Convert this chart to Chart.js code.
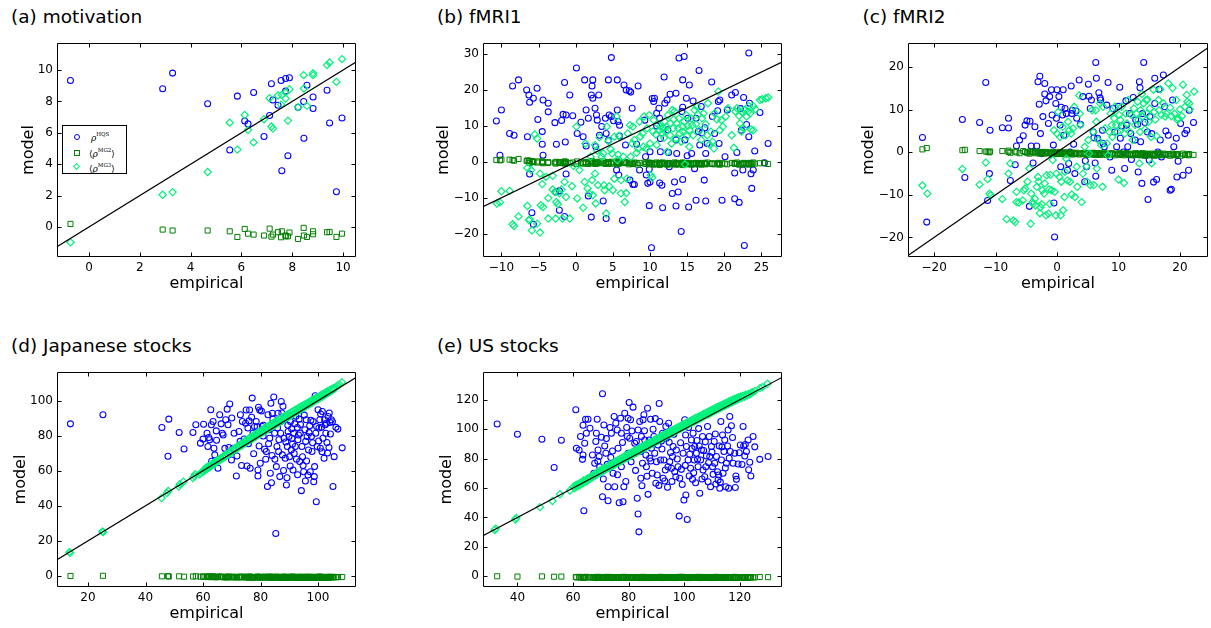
<!DOCTYPE html>
<html><head><meta charset="utf-8">
<script src="https://cdn.jsdelivr.net/npm/chart.js@4.4.0/dist/chart.umd.min.js"></script>
<style>
html,body{margin:0;padding:0;background:#fff;overflow:hidden;}
body{width:1211px;height:628px;position:relative;font-family:"DejaVu Sans",sans-serif;}
canvas{position:absolute;}
.ttl{position:absolute;font-size:18.5px;line-height:1;white-space:nowrap;color:#000;}
.leg{position:absolute;border:1px solid #000;background:#fff;box-sizing:border-box;}
.mk{position:absolute;box-sizing:border-box;}
.lt{position:absolute;font-family:"DejaVu Serif",serif;font-size:9px;line-height:1;white-space:nowrap;color:#000;}
.lt sup{font-size:5.5px;font-style:normal;vertical-align:5px;}
</style></head><body>
<div class="ttl" style="left:11px;top:7.8px">(a) motivation</div>
<div class="ttl" style="left:437px;top:7.8px">(b) fMRI1</div>
<div class="ttl" style="left:862.5px;top:7.8px">(c) fMRI2</div>
<div class="ttl" style="left:11px;top:336.8px">(d) Japanese stocks</div>
<div class="ttl" style="left:437px;top:336.8px">(e) US stocks</div>
<script>
// ---------------- (a) motivation ----------------
const empA = [-0.73, 2.90, 3.29, 4.67, 5.54, 5.84, 6.13, 6.26, 6.48, 6.89, 7.11, 7.18, 7.24, 7.44, 7.56, 7.59, 7.74, 7.74, 7.83, 7.89, 8.23, 8.45, 8.46, 8.58, 8.82, 8.82, 9.37, 9.47, 9.74, 9.96];
const hqsA = [9.34, 8.81, 9.81, 7.85, 4.90, 8.34, 6.76, 6.57, 8.57, 5.76, 7.10, 9.13, 8.10, 7.76, 9.34, 3.58, 9.47, 8.66, 4.54, 9.51, 7.63, 8.00, 5.65, 9.04, 8.29, 7.55, 8.72, 6.63, 2.24, 6.95];
const mg2A = [0.19, -0.17, -0.23, -0.23, -0.28, -0.64, -0.13, -0.43, -0.49, -0.55, -0.11, -0.62, -0.49, -0.34, -0.66, -0.28, -0.60, -0.55, -0.60, -0.36, -0.77, -0.06, -0.55, -0.64, -0.28, -0.47, -0.34, -0.32, -0.64, -0.43];
const mg3A = [-0.98, 2.05, 2.22, 3.50, 6.65, 4.93, 7.14, 6.18, 5.39, 6.87, 8.21, 6.40, 6.27, 8.38, 7.80, 8.42, 8.19, 8.58, 6.78, 8.78, 7.63, 9.68, 8.83, 7.72, 9.81, 9.68, 10.32, 10.49, 9.25, 10.70];
const xRangeA = [-1.26, 10.51], yRangeA = [-1.92, 11.73];
const xTicksA = [0, 2, 4, 6, 8, 10], yTicksA = [0, 2, 4, 6, 8, 10];

// ---------------- (b) fMRI1 ----------------
const empB = [-10.68, -10.0, -10.2, -8.9, -8.3, -8.5, -7.7, -6.6, -6.3, -6.2, -5.7, -5.2, -5.1, -6.5, -6.2, -5.9, -5.7, -4.5, -4.4, -3.7, -3.7, -4.5, -4.4, -2.8, -2.6, -2.7, -2.2, -1.9, -1.7, -1.5, -1.3, -1.4, -2.2, -1.5, -1.3, -0.8, -0.4, 0.1, 0.2, 0.7, 1.0, 1.2, 1.4, 1.7, 1.4, 1.7, 2.1, 2.2, 2.3, 2.3, 2.6, 2.8, 2.9, 3.1, 2.1, 2.7, 3.2, 3.5, 3.7, 4.0, 4.1, 4.4, 4.4, 4.5, 4.8, 4.8, 5.1, 5.6, 5.6, 5.7, 5.9, 5.9, 4.1, 6.3, 5.5, 5.8, 6.5, 6.8, 7.2, 7.4, 6.7, 7.6, 7.3, 7.7, 7.9, 8.2, 8.4, 8.6, 9.3, 9.4, 9.5, 9.9, 10.0, 9.7, 9.9, 10.0, 10.2, 10.3, 10.6, 10.5, 10.9, 10.9, 11.2, 11.3, 11.4, 11.4, 11.3, 11.6, 11.7, 11.9, 12.0, 12.3, 12.4, 12.5, 12.6, 12.7, 13.0, 13.3, 13.5, 13.5, 13.5, 13.6, 13.8, 13.9, 14.2, 14.3, 14.4, 14.6, 14.4, 14.4, 14.7, 14.9, 15.0, 15.1, 15.2, 15.3, 15.6, 15.8, 16.0, 16.2, 16.2, 16.6, 16.5, 16.7, 16.9, 17.0, 17.3, 17.4, 17.5, 17.5, 17.7, 18.3, 18.4, 18.7, 19.1, 19.2, 19.3, 19.4, 19.7, 20.1, 20.4, 21.0, 21.5, 21.4, 21.4, 22.0, 21.7, 22.2, 22.3, 22.6, 22.5, 22.7, 23.0, 23.3, 23.4, 23.3, 23.6, 23.7, 23.9, 24.1, 24.8, 25.4, 25.9];
const hqsB = [11.36, 14.4, 1.8, 7.9, 7.4, 21.1, 22.8, 20.0, 18.6, 16.6, 17.7, 20.5, 11.8, 7.0, -3.4, -14.2, -17.4, 4.9, 17.2, 16.3, 13.9, 8.4, 1.8, 10.9, 4.9, -8.4, -8.1, 11.5, 13.2, 22.1, 13.0, 5.5, -13.5, -15.2, -3.4, 18.6, 12.8, 26.1, 7.9, 11.0, 7.0, 22.8, 14.4, 12.1, 4.4, -9.5, 18.6, 21.1, 22.8, 17.7, 14.9, 13.0, 11.6, 18.6, -15.4, 4.2, 7.4, 9.8, -10.9, 12.1, 7.9, 22.8, 6.0, 13.0, 29.0, 12.6, 11.4, 22.8, 14.4, 11.2, 10.2, 7.2, -15.8, -16.3, -2.3, -3.7, 21.4, 20.0, 19.8, 19.4, 4.7, 14.9, -5.1, -6.3, -6.3, 4.9, 21.1, -2.3, 11.6, 1.4, -3.7, -2.1, 2.8, -6.0, -12.2, -5.6, -23.9, 17.6, 17.7, 16.8, 13.5, 10.0, 14.9, 12.1, 6.5, 2.8, -5.9, -6.5, -12.8, 23.6, 16.3, 17.2, 8.9, 2.6, -1.4, 18.8, -8.8, -5.6, 19.1, 6.1, -12.3, 2.3, -8.4, 28.9, -19.4, 14.0, 22.8, 29.3, 15.2, -4.9, 6.1, 17.7, 1.7, 12.1, -12.6, 21.4, 2.3, 16.9, -1.9, 12.1, -10.7, 25.4, 8.4, 4.7, 15.4, 8.0, -5.1, 9.5, -10.9, 2.3, 5.1, 22.2, 12.6, 7.9, 14.2, 16.8, 5.1, 17.2, -10.7, 1.4, 14.4, 18.6, 19.3, -3.1, -10.3, -11.3, 2.6, 14.8, 8.8, 17.9, -2.3, -23.3, 10.4, 7.0, 16.3, 30.3, -3.3, -7.4, -2.3, 3.0, 13.7, -0.3, 5.1];
const mg2B = [0.5, 0.6, 0.4, 0.6, 0.3, 0.5, 0.8, 0.2, 0.1, 0.3, 0.0, -0.2, 0.1, 0.4, -0.3, 0.2, -0.1, -0.2, 0.0, -0.3, -0.1, 0.1, -0.4, -0.2, 0.0, -0.5, -0.3, -0.1, -0.4, 0.1, -0.2, -0.5, -0.1, -0.3, 0.0, -0.4, -0.2, -0.6, 0.1, -0.3, -0.5, -0.1, -0.4, 0.0, -0.2, -0.6, -0.3, 0.2, -0.4, -0.1, -0.5, -0.2, -0.4, 0.0, -0.3, -0.6, -0.2, -0.4, 0.1, -0.5, -0.3, -0.1, -0.6, -0.2, -0.4, 0.0, -0.5, -0.3, -0.7, -0.1, -0.4, -0.2, -0.6, -0.3, 0.1, -0.5, -0.2, -0.4, -0.7, -0.3, -0.1, -0.5, -0.3, -0.6, -0.2, -0.4, -0.8, -0.3, -0.5, -0.1, -0.6, -0.3, -0.5, -0.2, -0.7, -0.4, -0.6, -0.3, -0.5, -0.8, -0.2, -0.6, -0.4, -0.7, -0.3, -0.5, -0.9, -0.4, -0.2, -0.6, -0.5, -0.8, -0.3, -0.6, -0.4, -0.7, -0.5, -0.2, -0.6, -0.4, -0.8, -0.3, -0.5, -0.7, -0.4, -0.6, -0.2, -0.5, -0.9, -0.3, -0.6, -0.4, -0.7, -0.5, -0.3, -0.6, -0.8, -0.4, -0.5, -0.7, -0.3, -0.6, -0.4, -0.5, -0.8, -0.3, -0.6, -0.4, -0.7, -0.5, -0.2, -0.6, -0.4, -0.7, -0.5, -0.3, -0.6, -0.8, -0.4, -0.5, -0.7, -0.3, -0.6, -0.5, -0.4, -0.8, -0.2, -0.6, -0.5, -0.3, -0.7, -0.4, -0.6, -0.5, -0.3, -0.8, -0.4, -0.6, -0.2, -0.5, -0.4, -0.3, -0.6];
const empB3 = [-10.6, -10.2, -10.0, -8.9, -8.5, -8.3, -7.7, -6.5, -6.5, -6.3, -6.2, -5.9, -5.5, -5.2, -5.2, -4.8, -6.0, -4.8, -4.7, -4.4, -4.5, -4.0, -3.7, -3.7, -3.1, -3.1, -2.8, -2.7, -2.6, -2.4, -2.2, -1.9, -1.8, -1.5, -1.3, -0.8, -0.5, -0.3, 0.1, 0.2, 0.5, 1.0, 1.2, 1.3, 1.6, 1.8, 2.0, 2.2, 2.3, 2.6, 2.6, 2.7, 2.9, 3.0, 3.2, 3.5, 3.7, 3.8, 3.9, 4.1, 4.2, 4.4, 4.5, 4.7, 4.9, 5.0, 5.2, 5.2, 5.5, 5.6, 5.7, 5.8, 6.1, 6.1, 6.4, 6.6, 6.8, 6.9, 7.0, 7.3, 7.4, 7.6, 7.7, 7.9, 8.2, 8.4, 8.6, 8.7, 9.0, 9.1, 9.2, 9.5, 9.6, 9.9, 10.0, 10.1, 10.3, 10.4, 10.5, 10.8, 10.9, 11.1, 11.3, 11.4, 11.6, 11.8, 11.9, 12.0, 12.1, 12.2, 12.3, 12.4, 12.7, 12.7, 12.9, 13.0, 13.1, 13.2, 13.3, 13.5, 13.6, 13.8, 13.9, 14.0, 14.2, 14.4, 14.4, 14.6, 14.7, 14.9, 15.0, 15.1, 15.3, 15.3, 15.6, 15.7, 15.8, 16.0, 16.2, 16.3, 16.5, 16.7, 16.9, 17.0, 17.2, 17.5, 17.7, 17.8, 18.0, 18.2, 18.4, 18.6, 18.7, 19.0, 19.2, 19.4, 19.6, 19.8, 20.2, 20.5, 21.0, 21.3, 21.5, 21.7, 22.0, 22.1, 22.3, 22.4, 22.6, 22.7, 23.0, 23.2, 23.3, 23.5, 23.6, 23.9, 23.9, 24.2, 24.8, 25.1, 25.6, 25.9];
const mg3B = [-11.6, -11.3, -8.2, -8.1, -17.4, -17.9, -15.2, -1.7, -12.3, -16.3, -16.0, -19.1, 7.6, 6.5, -17.2, -19.7, -2.3, -3.3, -12.1, -12.6, -6.2, -4.2, -10.1, -15.8, -3.9, -7.7, -8.4, -15.8, -11.2, -11.8, -8.8, -7.7, -15.8, -5.6, -9.8, -15.8, -6.8, -1.1, 9.8, -10.2, -2.3, -12.8, -5.6, 5.1, -7.4, -8.8, 1.4, -5.1, -9.3, -3.3, 4.7, -11.6, 3.1, -6.5, 6.8, 1.4, 2.3, -6.5, -7.9, -14.4, 9.8, 5.8, -6.8, 3.5, 2.3, -7.9, 7.0, -4.7, 12.6, 0.5, 2.0, 7.2, -8.8, -5.1, 1.4, -11.2, -8.7, -4.7, 7.9, 10.2, 1.4, 5.1, 9.8, 6.1, 2.5, 3.7, 11.2, 7.0, 7.9, 4.2, 12.6, 3.7, 9.3, 13.0, 5.1, -3.7, -4.4, 8.4, 11.6, 7.6, 4.7, 10.4, 8.8, 9.8, 7.9, 9.5, 6.7, 11.2, 8.4, 9.8, 2.8, 13.0, 10.7, 7.4, 5.1, 14.4, 9.3, 11.8, 14.0, 6.5, 10.7, 9.3, 12.1, 7.9, 5.6, 9.8, 8.4, 11.2, -0.7, 13.0, 7.2, 10.0, 8.8, 4.2, 12.1, 10.2, 7.4, 14.4, 10.5, 15.4, 13.2, 8.8, 6.1, 12.1, 13.5, 10.5, 7.4, 16.3, 4.8, 8.4, 5.6, 3.7, 13.5, 11.8, 19.6, 8.8, 11.6, 9.8, 12.6, 14.9, 7.4, 3.9, 14.0, 14.9, 12.8, 10.7, 8.4, 13.8, 9.3, 14.4, 12.6, 14.0, 15.5, 13.5, 9.0, 15.5, 8.8, 14.6, 17.2, 17.4, 17.7, 17.9];
const xRangeB = [-12.48, 27.77], yRangeB = [-26.5, 33.07];
const xTicksB = [-10, -5, 0, 5, 10, 15, 20, 25], yTicksB = [-20, -10, 0, 10, 20, 30];

// ---------------- (c) fMRI2 ----------------
const empC = [-21.9, -21.2, -15.4, -15.0, -12.6, -11.6, -11.3, -11.0, -10.9, -8.9, -7.9, -7.9, -7.6, -6.8, -6.6, -6.1, -5.5, -5.2, -4.9, -4.4, -4.5, -4.2, -3.9, -3.6, -3.3, -3.1, -2.9, -2.8, -2.7, -2.5, -2.3, -2.0, -2.0, -1.8, -1.4, -1.2, -0.9, -0.8, -0.6, -0.5, -0.4, -0.2, -0.1, 0.0, 0.3, 0.5, 0.6, 0.7, 0.9, 1.0, 1.1, 1.3, 1.5, 1.7, 1.9, 2.1, 2.3, 2.4, 2.5, 2.7, 2.9, 3.1, 3.2, 3.6, 3.8, 4.2, 4.5, 4.6, 4.8, 5.1, 5.2, 5.4, 5.6, 5.9, 6.0, 6.2, 6.3, 6.4, 6.3, 6.6, 6.8, 7.0, 7.1, 7.4, 7.5, 7.7, 8.1, 8.3, 8.6, 8.9, 9.1, 9.4, 9.7, 10.0, 10.2, 10.3, 10.5, 10.8, 11.0, 11.2, 11.3, 11.5, 11.8, 12.0, 12.1, 12.4, 12.7, 12.8, 13.1, 13.2, 13.4, 13.5, 13.6, 13.8, 13.9, 14.1, 14.3, 14.5, 14.7, 14.8, 15.0, 15.1, 15.4, 15.7, 15.9, 15.9, 16.2, 16.4, 16.6, 16.8, 17.0, 17.3, 17.5, 17.7, 18.1, 18.4, 18.6, 18.8, 19.0, 19.4, 19.5, 19.7, 20.1, 20.5, 20.8, 21.1, 21.4, 21.5, 22.2];
const hqsC = [3.5, -16.4, 7.7, -5.9, 7.0, 16.4, -11.3, -5.0, 5.2, 5.8, 8.0, 5.7, -6.6, -2.9, 1.5, 2.9, 3.9, 6.4, 7.4, 7.3, -12.7, 1.5, -2.5, 6.0, 1.5, 16.6, 11.3, 17.9, 4.4, -0.3, 8.4, 13.7, 16.2, 12.1, 6.8, 13.1, 14.7, 8.8, 1.7, -11.9, -19.9, 11.5, 8.0, 14.7, 13.1, 6.4, -3.4, 10.6, 8.8, 14.7, 4.0, 10.3, 9.1, -4.2, -2.6, 0.1, 15.6, 9.1, 9.9, 1.9, -5.0, 9.7, 8.0, 17.0, 6.6, 13.1, -6.9, -2.0, -3.4, 16.0, 13.2, 10.3, 12.3, 4.8, 3.4, -2.5, -5.6, 17.4, 21.1, 3.3, 14.0, 12.8, 12.3, 5.2, 2.1, 1.3, 11.1, 16.4, -1.1, -4.2, 10.3, 4.8, 1.3, 10.8, 15.3, 3.3, 6.2, 0.1, -3.8, 12.1, 6.4, 1.3, 9.1, 4.4, -1.7, 12.9, 2.9, 7.6, 6.6, -4.6, 16.6, 15.2, 2.5, -7.3, 9.1, 21.1, 7.0, -0.7, 4.8, -11.1, -1.8, 8.4, 4.4, -7.0, 17.4, 11.5, -6.4, 0.1, 14.8, 2.9, -1.1, 18.2, 10.7, 5.0, 4.0, -8.9, -8.7, 12.3, 1.3, 3.3, -5.8, -2.1, 6.8, -5.4, 4.4, 5.2, -4.2, 9.9, 7.0];
const mg2C = [0.7, 1.0, 0.5, 0.6, 0.3, 0.2, 0.1, 0.0, 0.2, 0.3, 0.1, 0.4, -0.1, 0.2, 0.0, -0.2, 0.3, 0.1, -0.1, 0.2, -0.3, 0.0, 0.1, -0.2, 0.2, -0.1, 0.0, -0.3, 0.1, -0.2, 0.0, -0.1, -0.3, 0.1, -0.2, 0.0, -0.4, -0.1, 0.1, -0.3, -0.2, 0.0, -0.4, -0.1, -0.3, 0.1, -0.2, -0.4, 0.0, -0.3, -0.1, -0.5, -0.2, 0.0, -0.4, -0.2, -0.3, -0.1, -0.5, -0.2, -0.4, -0.1, -0.3, -0.5, -0.2, -0.4, -0.1, -0.3, -0.6, -0.2, -0.4, -0.3, -0.5, -0.1, -0.4, -0.6, -0.2, -0.3, -0.5, -0.4, -0.2, -0.6, -0.3, -0.5, -0.4, -0.1, -0.6, -0.3, -0.5, -0.2, -0.4, -0.7, -0.3, -0.5, -0.2, -0.6, -0.4, -0.3, -0.7, -0.5, -0.2, -0.4, -0.6, -0.3, -0.5, -0.7, -0.4, -0.2, -0.6, -0.5, -0.3, -0.7, -0.4, -0.6, -0.2, -0.5, -0.8, -0.3, -0.6, -0.4, -0.5, -0.7, -0.3, -0.6, -0.4, -0.8, -0.5, -0.2, -0.6, -0.4, -0.7, -0.3, -0.5, -0.6, -0.4, -0.8, -0.5, -0.3, -0.6, -0.7, -0.4, -0.5, -0.8, -0.3, -0.6, -0.5, -0.7, -0.4, -0.6];
const empC3 = [-21.9, -21.1, -15.4, -12.6, -11.6, -11.3, -11.0, -10.8, -8.9, -8.2, -7.9, -7.6, -7.1, -6.8, -6.6, -6.6, -6.2, -5.6, -5.4, -5.2, -4.8, -4.5, -4.3, -4.2, -4.0, -3.9, -3.6, -3.5, -3.3, -3.1, -3.0, -2.8, -2.7, -2.5, -2.4, -2.1, -2.0, -1.8, -1.7, -1.4, -1.3, -1.2, -1.1, -0.9, -0.7, -0.5, -0.4, -0.2, -0.1, 0.0, 0.2, 0.4, 0.5, 0.6, 0.7, 0.9, 1.0, 1.2, 1.3, 1.4, 1.5, 1.7, 1.8, 2.0, 2.1, 2.3, 2.4, 2.6, 2.8, 2.9, 3.2, 3.3, 3.6, 3.7, 3.8, 4.0, 4.2, 4.5, 4.8, 4.9, 5.1, 5.2, 5.4, 5.7, 5.9, 6.0, 6.3, 6.4, 6.5, 6.7, 7.0, 7.2, 7.4, 7.5, 7.8, 8.1, 8.3, 8.5, 8.7, 8.9, 9.0, 9.3, 9.4, 9.6, 9.8, 10.0, 10.1, 10.3, 10.5, 10.7, 10.9, 11.0, 11.2, 11.4, 11.6, 11.8, 12.1, 12.3, 12.5, 12.7, 12.9, 13.1, 13.2, 13.4, 13.5, 13.6, 13.8, 13.9, 14.1, 14.3, 14.5, 14.6, 14.7, 14.9, 15.1, 15.3, 15.4, 15.7, 15.8, 16.0, 16.2, 16.5, 16.6, 16.8, 17.0, 17.3, 17.6, 17.8, 18.1, 18.4, 18.6, 18.8, 19.1, 19.4, 19.6, 19.7, 20.0, 20.3, 20.5, 20.8, 21.1, 21.2, 21.5, 21.6, 22.3];
const mg3C = [-7.8, -9.7, -3.9, -7.6, -2.4, -6.3, -9.7, -10.1, -11.0, -15.7, -5.0, -2.6, -16.0, -16.4, -11.7, -9.3, -11.8, -11.3, -8.9, -8.5, -6.9, -3.8, -16.8, -9.7, -11.7, -12.1, -10.9, -12.5, -8.1, -5.8, -6.9, -14.3, -12.9, -12.2, -8.9, -9.7, -7.3, -14.8, -5.4, -14.4, -8.7, -12.1, -5.3, -8.9, -1.8, 5.2, -9.3, -14.8, -5.0, 4.4, 9.5, -5.8, 3.6, -14.8, -6.9, 6.0, -13.6, -10.5, -4.6, 4.0, -1.5, -6.6, 7.2, 5.2, -6.9, 4.4, -9.9, 5.6, 10.7, -10.5, -3.4, -8.1, 13.4, 9.1, 6.4, -11.7, -5.0, 1.3, -3.3, -6.9, 2.9, -0.3, -7.7, 9.9, 4.8, -7.7, 9.9, 7.2, -3.8, 2.9, 11.5, 1.7, -8.1, 10.7, 5.6, 2.1, -0.7, 4.8, 9.1, 6.4, 3.6, 8.0, 10.7, 6.4, 4.8, -6.4, 8.8, 7.6, 10.7, 6.0, -7.2, 4.4, 9.1, 6.8, 12.3, 4.8, 8.8, 2.9, 10.3, 6.4, 9.1, 11.9, 7.6, -2.6, 4.8, 9.9, 13.7, 8.4, 11.5, 5.4, 12.3, 9.1, 12.4, 7.2, 10.3, 3.6, -2.6, 14.7, 9.5, 7.7, 3.8, 12.3, 9.9, 14.8, 8.8, 11.5, 8.4, 9.1, 16.2, 10.5, 8.5, 15.1, 9.1, 12.3, 7.6, 8.0, 10.1, 8.5, 15.9, 10.7, 13.5, 11.9, 11.5, 10.1, 14.3];
const xRangeC = [-24.25, 24.56], yRangeC = [-24.6, 25.7];
const xTicksC = [-20, -10, 0, 10, 20], yTicksC = [-20, -10, 0, 10, 20];

// ---------------- (d) Japanese stocks ----------------
const empD = [13.9, 25.2, 45.7, 47.8, 48.1, 51.7, 53.4, 56.5, 57.5, 59.1, 60.0, 60.2, 61.4, 61.7, 62.0, 62.3, 62.7, 62.9, 63.5, 63.8, 64.1, 64.6, 65.2, 65.8, 66.7, 67.0, 67.9, 68.4, 68.7, 69.0, 69.3, 69.9, 70.4, 70.8, 71.6, 71.8, 72.5, 73.0, 73.7, 74.3, 74.8, 75.0, 75.3, 75.6, 76.0, 76.2, 76.4, 77.1, 77.4, 77.9, 78.5, 79.1, 79.1, 79.5, 79.7, 79.9, 80.3, 80.6, 80.9, 81.4, 82.0, 82.4, 82.6, 83.0, 83.2, 83.4, 83.8, 84.1, 84.3, 84.6, 84.9, 85.0, 85.3, 85.5, 85.7, 86.1, 86.4, 86.7, 87.0, 87.2, 87.6, 87.8, 88.2, 88.4, 88.6, 89.0, 89.2, 89.3, 89.6, 89.9, 90.1, 90.4, 90.7, 90.9, 91.3, 91.5, 91.9, 92.1, 92.5, 92.8, 93.0, 93.4, 93.6, 93.8, 94.2, 94.4, 94.8, 95.0, 95.4, 95.6, 95.9, 96.2, 96.5, 96.7, 97.1, 97.3, 97.7, 97.9, 98.3, 98.5, 98.7, 99.0, 99.2, 99.4, 99.7, 100.0, 100.3, 100.6, 100.8, 101.2, 101.5, 101.7, 102.1, 102.3, 102.7, 102.9, 103.3, 103.5, 103.8, 104.1, 104.6, 105.2, 105.6, 106.9, 108.4, 81.0, 82.8, 84.0, 85.9, 86.3, 87.4, 88.0, 88.8, 89.5, 90.3, 90.8, 91.1, 91.7, 92.3, 92.9, 93.2, 93.9, 94.6, 95.2, 95.7, 96.0, 96.9, 97.5, 98.1, 98.8, 99.5, 100.2, 100.9, 101.4, 102.5, 103.1, 103.9, 104.3, 105.0, 106.2, 75.8, 77.6, 78.8, 72.9, 70.0, 66.3, 64.7, 63.0, 67.6, 73.4, 76.9, 79.3, 81.8, 83.6, 86.9];
const hqsD = [86.8, 92.0, 84.7, 68.3, 89.5, 81.9, 72.5, 81.9, 86.3, 75.8, 78.1, 86.6, 81.5, 73.9, 79.0, 77.7, 94.8, 86.3, 88.2, 72.9, 69.1, 82.8, 61.5, 92.0, 81.5, 80.5, 89.1, 95.2, 86.3, 73.3, 98.1, 66.2, 72.9, 81.5, 57.1, 68.5, 82.4, 92.0, 88.2, 78.2, 87.2, 94.7, 62.8, 84.4, 88.5, 94.7, 61.5, 101.5, 81.5, 85.3, 88.2, 60.5, 57.1, 74.2, 94.7, 64.3, 94.1, 85.3, 79.9, 72.3, 71.0, 51.0, 92.0, 83.4, 78.6, 58.6, 53.2, 92.9, 89.5, 102.1, 81.5, 66.6, 24.2, 62.4, 73.9, 92.9, 77.7, 56.7, 81.5, 99.6, 69.1, 96.8, 78.6, 89.5, 67.2, 51.9, 56.1, 73.9, 82.4, 79.6, 68.1, 88.2, 71.9, 78.6, 60.5, 81.5, 86.8, 73.9, 66.6, 84.7, 77.7, 89.5, 65.3, 81.5, 48.7, 73.9, 63.0, 59.5, 83.4, 54.2, 89.1, 79.6, 57.6, 71.9, 85.7, 59.5, 79.6, 71.0, 88.2, 53.8, 56.7, 102.9, 81.5, 42.4, 73.9, 94.8, 84.4, 89.1, 72.9, 84.9, 93.9, 78.6, 67.2, 89.1, 81.5, 87.2, 70.2, 91.0, 73.3, 87.6, 89.1, 51.0, 68.1, 83.8, 73.1, 86.0, 75.5, 68.8, 84.5, 71.0, 93.0, 60.2, 76.4, 86.0, 62.8, 84.0, 75.2, 69.9, 91.2, 57.8, 80.5, 86.4, 68.0, 91.8, 76.8, 65.6, 81.8, 88.8, 76.0, 62.4, 85.3, 77.0, 92.4, 70.9, 86.3, 76.2, 93.0, 81.0, 88.0, 84.8, 75.4, 69.8, 85.1, 76.8, 90.2, 86.8, 77.5, 65.5, 72.8, 63.0, 90.6, 96.3, 66.6, 98.6, 88.0];
const mg2D = [0.0, 0.1, -0.2, -0.1, -0.3, -0.2, -0.4, -0.3, -0.2, -0.4, -0.3, -0.5, -0.2, -0.6, -0.4, -0.3, -0.7, -0.5, -0.2, -0.6, -0.4, -0.8, -0.5, -0.3, -0.7, -0.6, -0.4, -0.9, -0.5, -0.3, -0.7, -0.6, -0.4, -0.8, -0.5, -0.9, -0.6, -0.3, -0.7, -0.5, -0.8, -0.4, -0.6, -1.0, -0.5, -0.7, -0.3, -0.8, -0.6, -0.9, -0.5, -0.7, -0.4, -0.8, -0.6, -1.0, -0.5, -0.7, -0.9, -0.4, -0.6, -0.8, -0.5, -1.0, -0.7, -0.4, -0.9, -0.6, -0.8, -0.5, -0.7, -1.0, -0.6, -0.4, -0.8, -0.6, -0.9, -0.5, -0.7, -1.0, -0.6, -0.8, -0.4, -0.7, -0.9, -0.5, -0.8, -0.6, -1.0, -0.7, -0.5, -0.9, -0.6, -0.8, -0.4, -0.7, -1.0, -0.6, -0.8, -0.5, -0.9, -0.7, -0.6, -0.8, -1.0, -0.5, -0.7, -0.9, -0.6, -0.8, -0.4, -0.7, -1.0, -0.6, -0.8, -0.5, -0.9, -0.7, -0.6, -1.0, -0.8, -0.5, -0.7, -0.9, -0.6, -0.8, -0.4, -1.0, -0.7, -0.6, -0.9, -0.5, -0.8, -0.7, -1.0, -0.6, -0.8, -0.5, -0.9, -0.7, -0.6, -0.8, -0.5, -0.7, -0.6, -0.7, -0.5, -0.9, -0.6, -0.8, -1.0, -0.5, -0.7, -0.9, -0.6, -0.8, -0.4, -0.7, -1.0, -0.6, -0.8, -0.5, -0.9, -0.7, -0.6, -1.0, -0.8, -0.5, -0.7, -0.9, -0.6, -0.8, -0.4, -1.0, -0.7, -0.6, -0.9, -0.5, -0.8, -0.7, -0.6, -0.9, -0.5, -0.8, -0.7, -0.4, -0.6, -0.5, -0.8, -0.7, -0.9, -0.6, -0.8, -0.5, -0.7];
const empD3 = [13.5, 13.8, 25.0, 25.3, 45.6, 47.4, 47.9, 51.6, 51.9, 53.2, 56.5, 56.9, 57.3, 58.6, 59.2, 59.7, 60.1, 60.4, 60.7, 61.0, 61.3, 61.6, 61.9, 62.2, 62.5, 62.8, 63.1, 63.4, 63.8, 64.1, 64.4, 64.8, 65.1, 65.5, 65.8, 66.2, 66.5, 66.9, 67.2, 67.6, 67.9, 68.3, 68.6, 69.0, 69.3, 69.7, 70.0, 70.4, 70.7, 71.1, 71.4, 71.8, 72.1, 72.5, 72.8, 73.2, 73.5, 73.9, 74.2, 74.6, 74.9, 75.3, 75.6, 76.0, 76.3, 76.7, 77.0, 77.4, 77.7, 78.1, 78.4, 78.8, 79.1, 79.5, 79.8, 80.2, 80.5, 80.9, 81.2, 81.6, 81.9, 82.3, 82.6, 83.0, 83.3, 83.7, 84.0, 84.4, 84.7, 85.1, 85.4, 85.8, 86.1, 86.5, 86.8, 87.2, 87.5, 87.9, 88.2, 88.6, 88.9, 89.3, 89.6, 90.0, 90.3, 90.7, 91.0, 91.4, 91.7, 92.1, 92.4, 92.8, 93.1, 93.5, 93.8, 94.2, 94.5, 94.9, 95.2, 95.6, 95.9, 96.3, 96.6, 97.0, 97.3, 97.7, 98.0, 98.4, 98.7, 99.1, 99.4, 99.8, 100.1, 100.5, 100.8, 101.2, 101.5, 101.9, 102.2, 102.6, 102.9, 103.3, 103.6, 104.0, 104.3, 104.7, 105.0, 105.4, 105.8, 106.3, 106.8, 107.4, 108.3];
const mg3D = [13.6, 13.2, 25.4, 25.0, 44.5, 47.3, 48.5, 51.0, 52.4, 53.8, 55.9, 57.0, 58.1, 57.9, 58.6, 59.3, 59.6, 60.8, 60.2, 61.6, 61.0, 62.3, 61.7, 62.9, 62.3, 63.6, 63.0, 64.3, 63.7, 65.0, 64.5, 65.9, 65.3, 66.5, 66.0, 67.3, 66.8, 68.1, 67.5, 68.9, 68.3, 69.7, 69.1, 70.4, 69.9, 71.2, 70.7, 72.2, 71.5, 73.0, 72.3, 73.8, 73.0, 74.6, 73.8, 75.4, 74.4, 76.2, 75.2, 77.0, 75.9, 77.8, 76.7, 78.6, 77.4, 79.4, 78.1, 80.1, 78.8, 80.9, 79.5, 81.6, 80.3, 82.4, 81.0, 83.1, 81.7, 83.8, 82.4, 84.5, 83.0, 85.2, 83.7, 85.9, 84.4, 86.6, 85.1, 87.3, 85.8, 88.0, 86.5, 88.7, 87.2, 89.4, 87.9, 90.1, 88.6, 90.8, 89.3, 91.5, 90.0, 92.2, 90.7, 92.8, 91.4, 93.5, 92.1, 94.2, 92.8, 94.9, 93.5, 95.5, 94.2, 96.2, 94.9, 96.9, 95.6, 97.5, 96.3, 98.2, 97.0, 98.8, 97.6, 99.5, 98.3, 100.1, 99.0, 100.8, 99.7, 101.4, 100.4, 102.0, 101.0, 102.7, 101.7, 103.4, 102.4, 104.0, 103.1, 104.7, 103.8, 105.4, 104.5, 106.0, 105.2, 106.7, 105.9, 107.3, 106.8, 108.0, 108.6, 109.3, 110.6];
const xRangeD = [9.22, 113.2], yRangeD = [-6.3, 116.4];
const xTicksD = [20, 40, 60, 80, 100], yTicksD = [0, 20, 40, 60, 80, 100];

// ---------------- (e) US stocks ----------------
const empE = [32.7, 40.0, 48.8, 53.2, 55.8, 61.0, 61.2, 62.2, 62.7, 63.4, 63.6, 63.6, 63.9, 64.5, 64.8, 65.4, 67.0, 67.5, 67.8, 68.2, 68.4, 68.7, 69.0, 69.4, 69.6, 70.2, 70.6, 70.6, 71.1, 71.4, 71.8, 72.3, 72.6, 72.6, 73.3, 73.8, 74.2, 74.4, 75.0, 75.4, 75.9, 76.2, 76.6, 77.1, 77.4, 77.4, 78.0, 78.3, 78.6, 79.3, 79.5, 79.8, 79.8, 80.2, 80.4, 80.7, 81.6, 82.2, 82.8, 83.1, 83.4, 83.4, 83.7, 84.0, 84.3, 84.4, 84.6, 85.0, 85.2, 85.5, 85.8, 86.2, 86.4, 86.8, 87.0, 87.4, 87.6, 87.9, 88.2, 88.5, 88.8, 89.1, 89.4, 89.8, 90.0, 90.3, 90.6, 91.0, 91.2, 91.5, 91.8, 92.2, 92.4, 92.7, 93.0, 93.4, 93.6, 94.0, 94.2, 94.6, 94.8, 95.1, 95.4, 95.8, 96.0, 96.6, 97.0, 97.2, 97.8, 98.2, 98.4, 99.0, 99.6, 99.9, 100.2, 100.5, 100.6, 100.8, 101.1, 101.4, 101.8, 102.0, 102.3, 102.6, 103.0, 103.2, 103.6, 103.8, 104.1, 104.4, 104.6, 105.0, 105.4, 105.6, 105.9, 106.2, 106.6, 106.8, 107.0, 107.4, 107.8, 108.0, 108.4, 108.6, 109.0, 109.2, 109.5, 109.8, 110.2, 110.4, 110.8, 111.0, 111.4, 111.6, 112.0, 112.2, 112.6, 112.8, 113.2, 113.4, 113.8, 114.0, 114.3, 114.6, 115.0, 115.2, 115.6, 115.8, 116.0, 116.4, 116.6, 117.0, 117.6, 118.2, 118.6, 118.8, 119.4, 120.2, 121.2, 121.4, 121.8, 122.4, 123.0, 123.6, 124.0, 124.8, 127.2, 130.2, 64.2, 66.1, 68.9, 70.9, 72.0, 73.6, 74.8, 76.0, 77.8, 79.0, 80.9, 81.2, 82.5, 84.8, 85.7, 86.6, 88.0, 89.6, 90.9, 92.0, 93.2, 94.4, 95.6, 96.3, 97.5, 98.7, 99.3, 100.4, 101.6, 102.8, 103.4, 104.8, 105.2, 106.4, 107.6, 108.8, 110.0, 111.2, 112.4, 113.6, 114.8, 116.2, 117.4, 118.4, 119.8, 120.8, 122.0, 123.2, 125.4, 113.0];
const hqsE = [103.6, 96.6, 93.2, 73.9, 92.5, 113.2, 87.0, 85.9, 95.0, 79.5, 102.7, 82.5, 44.5, 106.8, 97.3, 106.8, 82.5, 70.0, 76.8, 91.6, 97.3, 106.8, 85.9, 81.4, 74.5, 94.5, 124.1, 54.1, 102.9, 88.6, 83.6, 76.1, 60.9, 51.4, 101.1, 97.3, 85.2, 70.0, 60.9, 104.1, 99.5, 87.0, 50.0, 107.5, 97.3, 74.5, 50.7, 60.9, 110.9, 101.1, 95.0, 107.5, 83.6, 118.2, 93.9, 106.4, 115.0, 90.5, 91.6, 53.0, 99.5, 42.3, 30.2, 105.2, 84.8, 66.6, 95.0, 76.8, 106.4, 109.8, 92.7, 82.5, 74.5, 114.3, 55.7, 92.7, 80.2, 106.8, 87.0, 70.0, 100.0, 95.0, 83.6, 63.2, 77.9, 68.9, 89.3, 117.5, 105.2, 79.1, 92.0, 97.3, 66.6, 79.1, 64.8, 101.8, 93.9, 60.5, 74.5, 91.1, 77.9, 84.1, 73.4, 81.4, 88.2, 71.1, 67.7, 85.9, 74.5, 40.9, 66.6, 72.7, 83.6, 51.8, 106.4, 96.1, 55.2, 88.2, 38.6, 79.1, 68.2, 83.0, 73.4, 92.7, 65.9, 97.3, 79.1, 88.2, 63.6, 83.6, 92.3, 74.5, 88.6, 56.4, 79.1, 85.9, 95.0, 72.3, 85.5, 67.7, 74.5, 81.8, 101.8, 64.3, 95.0, 81.4, 60.9, 88.2, 74.5, 69.3, 91.6, 76.8, 62.7, 81.4, 71.1, 65.4, 88.6, 59.8, 105.2, 79.1, 96.1, 70.0, 84.8, 92.7, 60.9, 76.8, 88.6, 99.5, 59.8, 108.6, 84.8, 102.3, 76.8, 83.6, 68.2, 65.9, 76.4, 89.3, 101.8, 88.6, 81.8, 84.8, 92.7, 77.5, 68.2, 95.0, 79.5, 81.4, 90.4, 100.6, 78.2, 66.2, 93.6, 80.8, 108.6, 69.0, 91.0, 64.5, 77.8, 98.8, 72.0, 61.5, 99.0, 68.0, 78.4, 107.2, 61.8, 86.6, 72.2, 104.0, 64.4, 96.6, 79.8, 90.8, 62.4, 75.4, 101.2, 86.8, 70.4, 79.6, 100.4, 66.2, 91.4, 77.2, 84.4, 96.8, 68.8, 88.0, 73.6, 80.2, 94.4, 60.4, 84.0, 76.0, 89.6, 72.4, 88.0, 64.0];
const mg2E = [0.0, -0.2, -0.1, -0.3, -0.2, -0.5, -0.8, -0.4, -1.0, -0.6, -0.9, -0.5, -1.1, -0.7, -0.4, -0.8, -1.0, -0.6, -0.9, -0.5, -1.2, -0.7, -0.4, -0.9, -0.6, -1.0, -0.8, -0.5, -1.1, -0.7, -0.9, -0.4, -1.0, -0.6, -0.8, -1.2, -0.5, -0.9, -0.7, -1.0, -0.6, -0.8, -1.1, -0.5, -0.9, -0.7, -1.0, -0.4, -0.8, -1.2, -0.6, -0.9, -0.7, -1.0, -0.5, -0.8, -1.1, -0.6, -0.9, -0.7, -1.0, -0.5, -0.8, -1.2, -0.6, -0.9, -0.7, -1.0, -0.4, -0.8, -1.1, -0.6, -0.9, -0.7, -1.0, -0.5, -0.8, -1.2, -0.6, -0.9, -0.7, -1.0, -0.5, -0.8, -1.1, -0.6, -0.9, -0.7, -1.0, -0.4, -0.8, -1.2, -0.6, -0.9, -0.7, -1.0, -0.5, -0.8, -1.1, -0.6, -0.9, -0.7, -1.0, -0.5, -0.8, -1.2, -0.6, -0.9, -0.7, -1.0, -0.4, -0.8, -1.1, -0.6, -0.9, -0.7, -1.0, -0.5, -0.8, -1.2, -0.6, -0.9, -0.7, -1.0, -0.5, -0.8, -1.1, -0.6, -0.9, -0.7, -1.0, -0.4, -0.8, -1.2, -0.6, -0.9, -0.7, -1.0, -0.5, -0.8, -1.1, -0.6, -0.9, -0.7, -1.0, -0.5, -0.8, -1.2, -0.6, -0.9, -0.7, -1.0, -0.4, -0.8, -1.1, -0.6, -0.9, -0.7, -1.0, -0.5, -0.8, -1.2, -0.6, -0.9, -0.7, -1.0, -0.5, -0.8, -1.1, -0.6, -0.9, -0.7, -1.0, -0.4, -0.8, -1.2, -0.6, -0.9, -0.7, -1.0, -0.5, -0.8, -1.1, -0.6, -0.9, -0.7, -0.5, -0.6, -0.8, -0.6, -1.0, -0.7, -0.9, -0.5, -1.1, -0.8, -0.6, -0.9, -0.7, -1.0, -0.5, -0.8, -1.2, -0.6, -0.9, -0.7, -1.0, -0.5, -0.8, -1.1, -0.6, -0.9, -0.7, -1.0, -0.4, -0.8, -1.2, -0.6, -0.9, -0.7, -1.0, -0.5, -0.8, -1.1, -0.6, -0.9, -0.7, -1.0, -0.5, -0.8, -1.2, -0.6, -0.9, -0.7, -1.0, -0.5, -0.8, -0.6];
const empE3 = [31.8, 32.2, 39.2, 39.6, 48.1, 52.6, 55.3, 58.9, 60.2, 60.5, 60.8, 61.3, 61.5, 61.9, 62.4, 62.6, 63.1, 63.5, 63.8, 64.3, 64.6, 65.0, 65.2, 65.7, 66.1, 66.3, 66.8, 67.1, 67.5, 67.9, 68.2, 68.6, 68.9, 69.3, 69.7, 70.0, 70.4, 70.8, 71.0, 71.5, 71.8, 72.1, 72.6, 72.9, 73.2, 73.7, 74.0, 74.3, 74.7, 75.1, 75.4, 75.8, 76.1, 76.5, 76.8, 77.2, 77.5, 77.9, 78.2, 78.6, 78.9, 79.3, 79.6, 80.0, 80.3, 80.7, 81.0, 81.4, 81.7, 82.1, 82.4, 82.8, 83.1, 83.5, 83.8, 84.2, 84.5, 84.9, 85.2, 85.6, 85.9, 86.3, 86.6, 87.0, 87.3, 87.7, 88.0, 88.4, 88.7, 89.1, 89.4, 89.8, 90.1, 90.5, 90.8, 91.2, 91.5, 91.9, 92.2, 92.6, 92.9, 93.3, 93.6, 94.0, 94.3, 94.7, 95.0, 95.4, 95.7, 96.1, 96.4, 96.8, 97.1, 97.5, 97.8, 98.2, 98.5, 98.9, 99.2, 99.6, 99.9, 100.3, 100.6, 101.0, 101.3, 101.7, 102.0, 102.4, 102.7, 103.1, 103.4, 103.8, 104.1, 104.5, 104.8, 105.2, 105.5, 105.9, 106.2, 106.6, 106.9, 107.3, 107.6, 108.0, 108.3, 108.7, 109.0, 109.4, 109.7, 110.1, 110.4, 110.8, 111.1, 111.5, 111.8, 112.2, 112.5, 112.9, 113.2, 113.6, 113.9, 114.3, 114.6, 115.0, 115.3, 115.7, 116.0, 116.4, 116.7, 117.1, 117.4, 117.8, 118.1, 118.5, 118.8, 119.2, 119.5, 119.9, 120.3, 120.8, 121.2, 121.7, 122.1, 122.6, 123.1, 123.6, 124.2, 124.8, 125.5, 127.3, 128.1, 130.0];
const mg3E = [31.5, 32.4, 38.6, 39.6, 47.0, 51.2, 55.8, 58.3, 60.9, 59.8, 61.7, 60.9, 62.4, 61.6, 63.3, 62.1, 64.0, 63.2, 65.1, 64.0, 65.6, 64.8, 66.5, 66.0, 67.4, 66.5, 68.3, 67.5, 69.2, 68.4, 70.1, 69.0, 70.8, 70.2, 71.9, 70.7, 72.6, 71.5, 73.4, 72.2, 74.0, 73.0, 75.1, 73.6, 75.9, 74.8, 76.3, 75.2, 77.4, 76.0, 78.2, 76.9, 79.0, 77.4, 79.6, 78.3, 80.5, 79.0, 81.2, 79.8, 82.0, 80.6, 82.7, 81.1, 83.5, 82.0, 84.1, 82.7, 84.9, 83.4, 85.6, 84.0, 86.4, 84.9, 87.0, 85.5, 87.9, 86.3, 88.5, 87.1, 89.3, 87.8, 90.0, 88.4, 90.8, 89.2, 91.4, 90.0, 92.1, 90.6, 92.9, 91.4, 93.6, 92.0, 94.3, 92.9, 95.0, 93.5, 95.8, 94.3, 96.4, 94.9, 97.1, 95.7, 97.9, 96.4, 98.5, 97.1, 99.3, 97.8, 100.0, 98.5, 100.7, 99.2, 101.4, 99.9, 102.0, 100.5, 102.8, 101.3, 103.4, 102.0, 104.1, 102.6, 104.9, 103.4, 105.5, 104.0, 106.2, 104.8, 106.9, 105.4, 107.6, 106.1, 108.2, 106.9, 108.9, 107.5, 109.6, 108.2, 110.3, 108.9, 110.9, 109.6, 111.6, 110.2, 112.3, 110.9, 113.0, 111.6, 113.6, 112.3, 114.3, 113.0, 114.9, 113.6, 115.6, 114.3, 116.2, 115.0, 116.9, 115.6, 117.5, 116.3, 118.1, 117.0, 118.8, 117.6, 119.4, 118.2, 120.0, 118.9, 120.6, 119.5, 121.1, 120.1, 121.7, 120.8, 122.2, 121.4, 122.8, 122.1, 123.4, 122.9, 124.0, 123.6, 124.9, 125.3, 126.1, 127.9, 128.6, 130.9];
const xRangeE = [27.6, 135.2], yRangeE = [-7.3, 138.9];
const xTicksE = [40, 60, 80, 100, 120], yTicksE = [0, 20, 40, 60, 80, 100, 120];

// ---------------- drawing ----------------
const FONT = 'DejaVu Sans';
const pts = (xs, ys) => xs.map((x, i) => ({x: x, y: ys[i]})).filter(p => p.y !== undefined);
const fmt = v => (v < 0 ? '\u2212' + Math.abs(v) : String(v));

const framePlugin = {
  id: 'frame',
  afterDatasetsDraw(chart) {
    const ctx = chart.ctx, a = chart.chartArea, sx = chart.scales.x, sy = chart.scales.y;
    ctx.save();
    ctx.strokeStyle = '#000';
    ctx.lineWidth = 1;
    const L = a.left + 0.5, T = a.top + 0.5, R = a.right - 0.5, B = a.bottom - 0.5;
    ctx.beginPath();
    ctx.rect(L, T, R - L, B - T);
    sx.ticks.forEach(t => {
      const p = Math.round(sx.getPixelForValue(t.value)) + 0.5;
      ctx.moveTo(p, B); ctx.lineTo(p, B - 4);
      ctx.moveTo(p, T); ctx.lineTo(p, T + 4);
    });
    sy.ticks.forEach(t => {
      const p = Math.round(sy.getPixelForValue(t.value)) + 0.5;
      ctx.moveTo(L, p); ctx.lineTo(L + 4, p);
      ctx.moveTo(R, p); ctx.lineTo(R - 4, p);
    });
    ctx.stroke();
    ctx.restore();
  }
};

const panels = [
  {box: [57, 43, 356, 257], xr: xRangeA, yr: yRangeA, xt: xTicksA, yt: yTicksA, ydist: 28.5,
   hqs: pts(empA, hqsA), mg2: pts(empA, mg2A), mg3: pts(empA, mg3A)},
  {box: [483, 43, 782, 257], xr: xRangeB, yr: yRangeB, xt: xTicksB, yt: yTicksB, ydist: 39,
   hqs: pts(empB, hqsB), mg2: pts(empB, mg2B), mg3: pts(empB3, mg3B)},
  {box: [908, 43, 1208, 257], xr: xRangeC, yr: yRangeC, xt: xTicksC, yt: yTicksC, ydist: 39,
   hqs: pts(empC, hqsC), mg2: pts(empC, mg2C), mg3: pts(empC3, mg3C)},
  {box: [57, 372, 356, 587], xr: xRangeD, yr: yRangeD, xt: xTicksD, yt: yTicksD, ydist: 36,
   hqs: pts(empD, hqsD), mg2: pts(empD, mg2D), mg3: pts(empD3, mg3D)},
  {box: [483, 372, 782, 587], xr: xRangeE, yr: yRangeE, xt: xTicksE, yt: yTicksE, ydist: 36,
   hqs: pts(empE, hqsE), mg2: pts(empE, mg2E), mg3: pts(empE3, mg3E)}
];

const YW = 50, XH = 45, PT = 12, PR = 14;
panels.forEach(p => {
  const [l, t, r, b] = p.box;
  const W = r - l + YW + PR, H = b - t + PT + XH;
  const cv = document.createElement('canvas');
  cv.width = W; cv.height = H;
  cv.style.left = (l - YW) + 'px'; cv.style.top = (t - PT) + 'px';
  cv.style.width = W + 'px'; cv.style.height = H + 'px';
  document.body.appendChild(cv);
  new Chart(cv, {
    type: 'scatter',
    data: {datasets: [
      {label: 'y = x', data: [{x: p.xr[0], y: p.xr[0]}, {x: p.xr[1], y: p.xr[1]}], showLine: true,
       borderColor: '#000', borderWidth: 1.2, pointRadius: 0, order: 0},
      {label: 'MG3', data: p.mg3, pointStyle: 'rectRot', pointRadius: 3.6, borderColor: '#00f27a',
       backgroundColor: 'rgba(0,0,0,0)', pointBorderWidth: 1.2, order: 1},
      {label: 'MG2', data: p.mg2, pointStyle: 'rect', pointRadius: 3.6, borderColor: '#008000',
       backgroundColor: 'rgba(0,0,0,0)', pointBorderWidth: 1, order: 2},
      {label: 'HQS', data: p.hqs, pointStyle: 'circle', pointRadius: 3, borderColor: '#0000ff',
       backgroundColor: 'rgba(0,0,0,0)', pointBorderWidth: 1.05, order: 3}
    ]},
    options: {
      responsive: false, animation: false, devicePixelRatio: 1,
      layout: {padding: {left: 0, top: PT, right: PR, bottom: 0}},
      plugins: {legend: {display: false}, tooltip: {enabled: false}},
      scales: {
        x: {type: 'linear', position: 'bottom', min: p.xr[0], max: p.xr[1],
            grid: {display: false, drawTicks: false}, border: {display: false},
            ticks: {color: '#000', font: {family: FONT, size: 12}, padding: 4, maxRotation: 0, autoSkip: false, callback: v => fmt(v)},
            title: {display: true, text: 'empirical', color: '#000', font: {family: FONT, size: 16}, padding: {top: 0, bottom: 8.9}},
            afterBuildTicks: s => { s.ticks = p.xt.map(v => ({value: v})); },
            afterFit: s => { s.height = XH; }},
        y: {type: 'linear', position: 'left', min: p.yr[0], max: p.yr[1],
            grid: {display: false, drawTicks: false}, border: {display: false},
            ticks: {color: '#000', font: {family: FONT, size: 12}, padding: 4, autoSkip: false, callback: v => fmt(v)},
            title: {display: true, text: 'model', color: '#000', font: {family: FONT, size: 16}, padding: {top: YW - p.ydist - 9.6, bottom: 0}},
            afterBuildTicks: s => { s.ticks = p.yt.map(v => ({value: v})); },
            afterFit: s => { s.width = YW; }}
      }
    },
    plugins: [framePlugin]
  });
});
</script>
<div class="leg" style="left:62px;top:125px;width:65px;height:49px">
  <div class="mk" style="left:10.5px;top:7.5px;width:6px;height:6px;border:1px solid #0000ff;border-radius:50%"></div>
  <div class="mk" style="left:10.5px;top:23.5px;width:6px;height:6px;border:1px solid #008000"></div>
  <div class="mk" style="left:11px;top:37.5px;width:5px;height:5px;border:1px solid #00f27a;transform:rotate(45deg)"></div>
  <div class="lt" style="left:28px;top:6px"><i>ρ</i><sup>HQS</sup></div>
  <div class="lt" style="left:26px;top:22px">⟨<i>ρ</i><sup>MG2</sup>⟩</div>
  <div class="lt" style="left:26px;top:37px">⟨<i>ρ</i><sup>MG3</sup>⟩</div>
</div>
</body></html>
